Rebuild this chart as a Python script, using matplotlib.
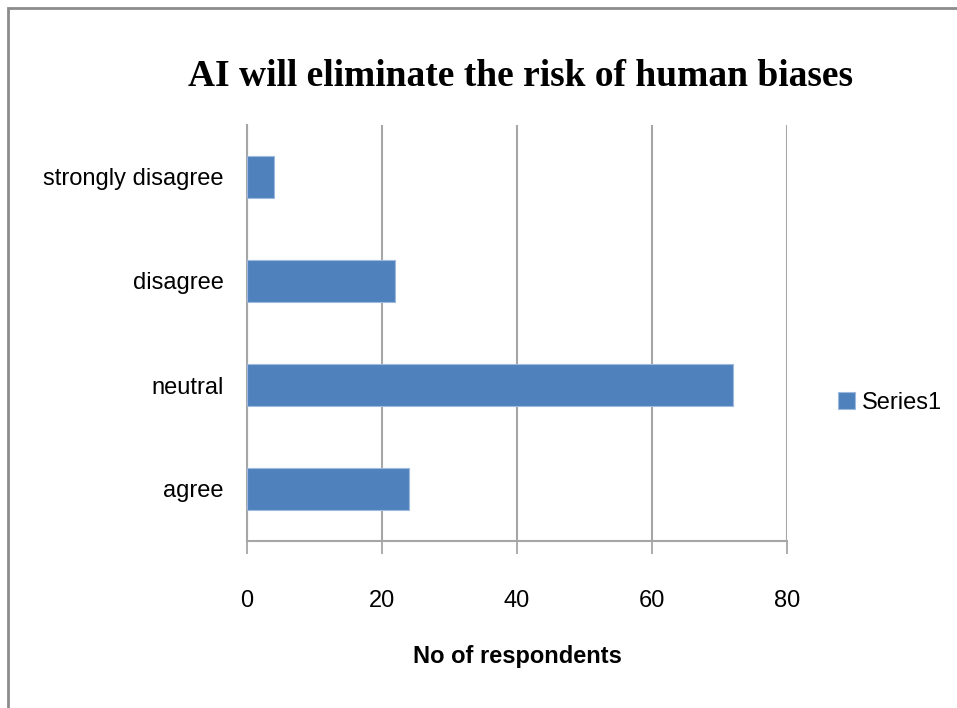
import matplotlib
matplotlib.use("Agg")
import matplotlib.pyplot as plt
from matplotlib.patches import Rectangle

categories = ["agree", "neutral", "disagree", "strongly disagree"]
respondents = [24, 72, 22, 4]
series_name = "Series1"
x_ticks = [0, 20, 40, 60, 80]
title = "AI will eliminate the risk of human biases"
x_label = "No of respondents"

bar_color = "#4F81BD"
grid_color = "#A6A6A6"

fig = plt.figure(figsize=(9.57, 7.08), dpi=100)
fig.patch.set_facecolor("white")

# outer chart-area frame
fig.add_artist(Rectangle((8 / 957, -0.05), 1.2, 1 - 8 / 708 + 0.05,
                         transform=fig.transFigure, fill=False,
                         edgecolor="#8C8C8C", linewidth=2.0))

ax = fig.add_axes([247 / 957, 1 - 541 / 708, 540 / 957, 416 / 708])
ypos = list(range(len(categories)))
ax.barh(ypos, respondents, height=0.4, color=bar_color,
        edgecolor="#9DB9DE", linewidth=0.8, label=series_name, zorder=3)

ax.set_xlim(0, 80)
ax.set_ylim(-0.5, len(categories) - 0.5)
ax.set_xticks(x_ticks)
ax.set_xticklabels([str(t) for t in x_ticks], fontsize=17, family="Liberation Sans")
ax.set_yticks(ypos)
ax.set_yticklabels(categories, fontsize=17, family="Liberation Sans")
ax.tick_params(axis="y", length=0, pad=17)
ax.tick_params(axis="x", length=9, width=1.3, color=grid_color, pad=26)

ax.grid(axis="x", color=grid_color, linewidth=1.5, zorder=0)
for side in ["top", "right"]:
    ax.spines[side].set_visible(False)
ax.spines["left"].set_color(grid_color)
ax.spines["left"].set_linewidth(1.5)
ax.spines["bottom"].set_color(grid_color)
ax.spines["bottom"].set_linewidth(1.5)

ax.set_xlabel(x_label, fontsize=17, fontweight="bold", family="Liberation Sans", labelpad=24)

fig.text(521 / 957, 1 - 76 / 708, title, ha="center", va="center",
         fontsize=27, fontweight="bold", family="Liberation Serif")

leg = ax.legend(loc="center left", bbox_to_anchor=(817 / 957, 1 - 403 / 708),
                bbox_transform=fig.transFigure, frameon=False,
                prop={"family": "Liberation Sans", "size": 17},
                handlelength=0.7, handleheight=0.7, handletextpad=0.3)

fig.savefig("out.png", dpi=100)
